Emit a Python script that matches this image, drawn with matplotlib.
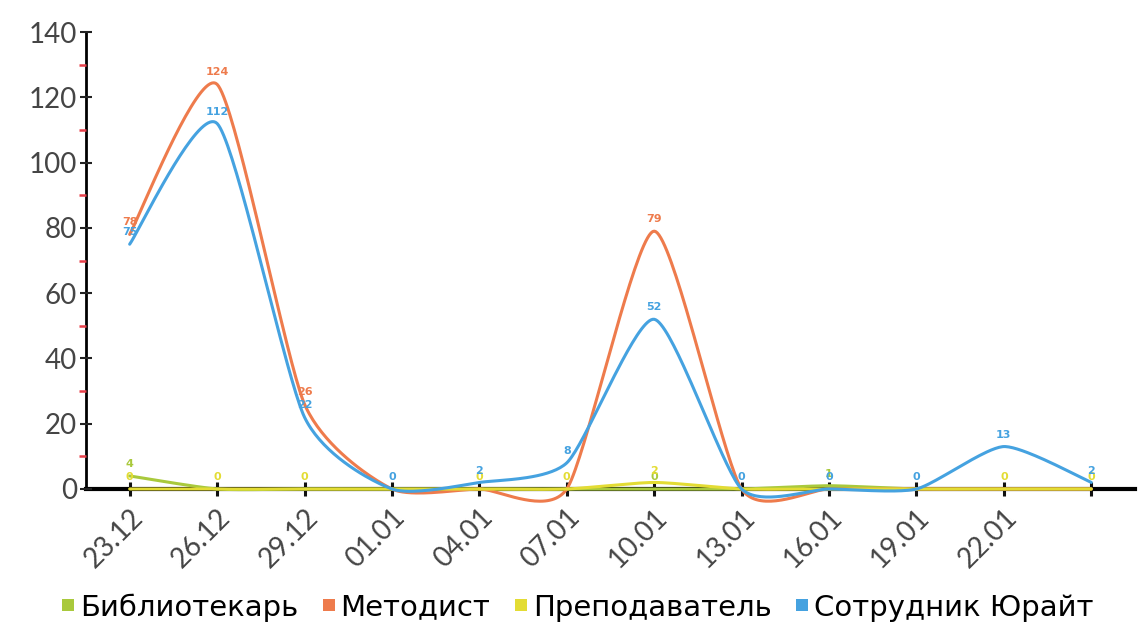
"""Line chart of daily activity by user role, smoothed curves with value labels."""

import numpy as np
import matplotlib
matplotlib.use("Agg")
import matplotlib.pyplot as plt
from matplotlib.lines import Line2D

dates = ["23.12", "26.12", "29.12", "01.01", "04.01", "07.01",
         "10.01", "13.01", "16.01", "19.01", "22.01", ""]

librarian = [4, 0, 0, 0, 0, 0, 0, 0, 1, 0, 0, 0]
methodist = [78, 124, 26, 0, 0, 0, 79, 0, 0, 0, 0, 0]
teacher = [0, 0, 0, 0, 0, 0, 2, 0, 0, 0, 0, 0]
staff = [75, 112, 22, 0, 2, 8, 52, 0, 0, 0, 13, 2]

series = [
    ("Библиотекарь", librarian, "#a9c93c"),
    ("Методист", methodist, "#ee7b4c"),
    ("Преподаватель", teacher, "#e3dc34"),
    ("Сотрудник Юрайт", staff, "#45a2e0"),
]

TICK_FONT = ["Lato", "DejaVu Sans"]


def smooth(xs, ys, n=40, tension=0.32):
    """Catmull-Rom style curve through every point (like spreadsheet smoothing)."""
    xs = np.asarray(xs, float)
    ys = np.asarray(ys, float)
    px = np.concatenate([[xs[0]], xs, [xs[-1]]])
    py = np.concatenate([[ys[0]], ys, [ys[-1]]])
    out_x, out_y = [], []
    t = np.linspace(0, 1, n)
    for i in range(1, len(px) - 2):
        x0, x1, x2, x3 = px[i - 1:i + 3]
        y0, y1, y2, y3 = py[i - 1:i + 3]
        cx1 = x1 + (x2 - x0) * tension / 3
        cy1 = y1 + (y2 - y0) * tension / 3
        cx2 = x2 - (x3 - x1) * tension / 3
        cy2 = y2 - (y3 - y1) * tension / 3
        bx = (1 - t) ** 3 * x1 + 3 * (1 - t) ** 2 * t * cx1 + 3 * (1 - t) * t ** 2 * cx2 + t ** 3 * x2
        by = (1 - t) ** 3 * y1 + 3 * (1 - t) ** 2 * t * cy1 + 3 * (1 - t) * t ** 2 * cy2 + t ** 3 * y2
        out_x.extend(bx)
        out_y.extend(by)
    return np.array(out_x), np.array(out_y)


fig = plt.figure(figsize=(11.43, 6.29), dpi=100)
ax = fig.add_axes([0.0752, 0.2226, 0.9178, 0.7264])

x = np.arange(len(dates))
for k, (name, vals, color) in enumerate(series):
    sx, sy = smooth(x, vals)
    ax.plot(sx, sy, color=color, lw=2.2, clip_on=False, zorder=3, solid_capstyle="round")
    for i, v in enumerate(vals):
        # a label that a later series prints at the same spot would be hidden anyway
        if any(later[1][i] == v for later in series[k + 1:]):
            continue
        ax.annotate(str(v), (x[i], v), xytext=(0, 5), textcoords="offset points",
                    ha="center", va="bottom", fontsize=8, color=color,
                    fontweight="bold", zorder=4)

ax.set_xlim(-0.5, len(dates) - 0.5)
ax.set_ylim(0, 140)

for side in ("top", "right"):
    ax.spines[side].set_visible(False)
ax.spines["left"].set_linewidth(2.0)
ax.spines["bottom"].set_linewidth(3.0)
ax.spines["left"].set_zorder(1)
ax.spines["bottom"].set_zorder(1)

ax.set_yticks(np.arange(0, 141, 20))
ax.set_yticks(np.arange(10, 140, 20), minor=True)
ax.tick_params(axis="y", which="major", direction="inout", length=9, width=1.5,
               color="#222222", labelsize=20, labelcolor="#454545", pad=2)
ax.tick_params(axis="y", which="minor", direction="out", length=5, width=1.8,
               color="#e8404a")
for lab in ax.get_yticklabels():
    lab.set_family(TICK_FONT)

ax.set_xticks(x)
ax.set_xticklabels(dates, rotation=45, ha="right", rotation_mode="anchor",
                   family=TICK_FONT)
ax.tick_params(axis="x", which="major", direction="inout", length=10, width=2.2,
               color="#111111", labelsize=20, labelcolor="#454545", pad=6)

handles = [Line2D([], [], ls="none", marker="s", markersize=8, color=c,
                  markeredgewidth=0) for _, _, c in series]
fig.legend(handles, [s[0] for s in series], loc="lower center", ncol=4,
           bbox_to_anchor=(0.505, -0.03), frameon=False, handlelength=0.5,
           handletextpad=0.15, columnspacing=0.8,
           prop={"family": "DejaVu Sans", "size": 21})

fig.savefig("out.png", dpi=100, facecolor="white")
